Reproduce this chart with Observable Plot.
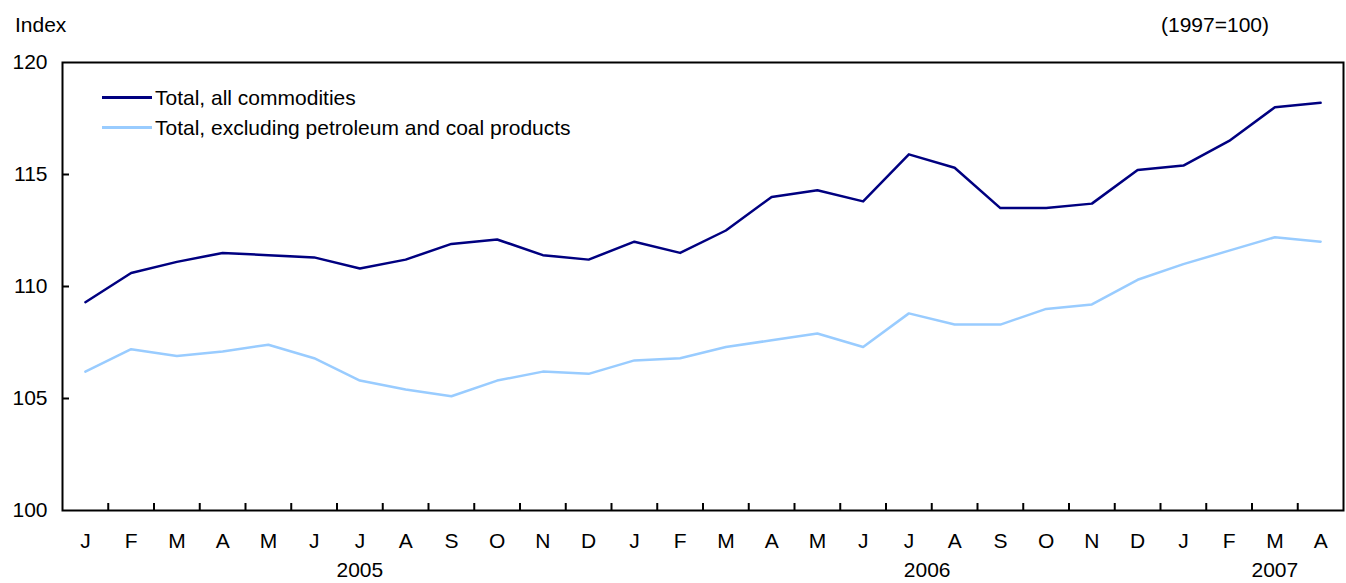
<!DOCTYPE html>
<html><head><meta charset="utf-8">
<script src="https://cdn.jsdelivr.net/npm/d3@7"></script>
<script src="https://cdn.jsdelivr.net/npm/@observablehq/plot@0.6"></script>
<style>
body{margin:0;background:#fff;font-family:"Liberation Sans",Arial,sans-serif;}
#wrap{position:relative;width:1346px;height:583px;}
.lbl{position:absolute;font-size:21px;color:#000;white-space:nowrap;line-height:1;}
.leg{position:absolute;left:102px;display:flex;align-items:center;font-size:21px;line-height:1;white-space:nowrap;}
.sw{width:50px;height:3px;margin-right:3px;}
</style></head><body><div id="wrap"></div>
<script>
const months = ["J","F","M","A","M","J","J","A","S","O","N","D","J","F","M","A","M","J","J","A","S","O","N","D","J","F","M","A"];
const total = [109.3,110.6,111.1,111.5,111.4,111.3,110.8,111.2,111.9,112.1,111.4,111.2,112.0,111.5,112.5,114.0,114.3,113.8,115.9,115.3,113.5,113.5,113.7,115.2,115.4,116.5,118.0,118.2];
const excl = [106.2,107.2,106.9,107.1,107.4,106.8,105.8,105.4,105.1,105.8,106.2,106.1,106.7,106.8,107.3,107.6,107.9,107.3,108.8,108.3,108.3,109.0,109.2,110.3,111.0,111.6,112.2,112.0];
const seriesNames = ["Total, all commodities","Total, excluding petroleum and coal products"];
const seriesColors = ["#000080","#99ccff"];
const yTicks = [100,105,110,115,120];
const years = ["2005","2006","2007"];
const yearAt = [6, 18.4, 26];

const rows = [];
months.forEach((m,i)=>{
  rows.push({i, v: total[i], s: seriesNames[0]});
  rows.push({i, v: excl[i], s: seriesNames[1]});
});
const idx = months.map((_,i)=>i);
const bounds = idx.slice(1).map(i=>i-0.5);

const W=1346,H=583,mL=62,mR=3,mT=62,mB=73;
const plot = Plot.plot({
  width:W, height:H, marginLeft:mL, marginRight:mR, marginTop:mT, marginBottom:mB,
  style:{fontFamily:"Liberation Sans, Arial, sans-serif", fontSize:"21px", background:"white", overflow:"visible"},
  x:{type:"linear", domain:[-0.5, months.length-0.5]},
  y:{domain:[100,120]},
  color:{domain:seriesNames, range:seriesColors},
  marks:[
    Plot.axisY({ticks:yTicks, tickSize:0, tickPadding:15, fontSize:21, label:null}),
    Plot.axisX({ticks:idx, tickFormat:i=>months[i], tickSize:0, tickPadding:23, fontSize:21, label:null}),
    Plot.tickY(yTicks.slice(1,-1), {y:d=>d, insetRight:W-mL-mR-7, stroke:"black", strokeWidth:2}),
    Plot.tickX(bounds, {x:d=>d, insetTop:H-mT-mB-7, stroke:"black", strokeWidth:2}),
    Plot.lineY(rows, {x:"i", y:"v", stroke:"s", z:"s", strokeWidth:2.5}),
    Plot.text(years, {x:(d,j)=>yearAt[j], frameAnchor:"bottom", dy:60, lineAnchor:"middle", fontSize:21}),
    Plot.frame({stroke:"black", strokeWidth:2})
  ]
});
const wrap = document.getElementById("wrap");
wrap.appendChild(plot);

function addLabel(text, style){
  const d = document.createElement("div");
  d.className = "lbl"; d.textContent = text;
  Object.assign(d.style, style);
  wrap.appendChild(d);
}
addLabel("Index", {left:"15px", top:"14px"});
addLabel("(1997=100)", {left:"1215px", top:"14px", transform:"translateX(-50%)"});

seriesNames.forEach((name,k)=>{
  const row = document.createElement("div");
  row.className = "leg";
  row.style.top = (87 + 30*k) + "px";
  const sw = document.createElement("div");
  sw.className = "sw"; sw.style.background = seriesColors[k];
  const t = document.createElement("span"); t.textContent = name;
  row.appendChild(sw); row.appendChild(t);
  wrap.appendChild(row);
});
</script></body></html>
